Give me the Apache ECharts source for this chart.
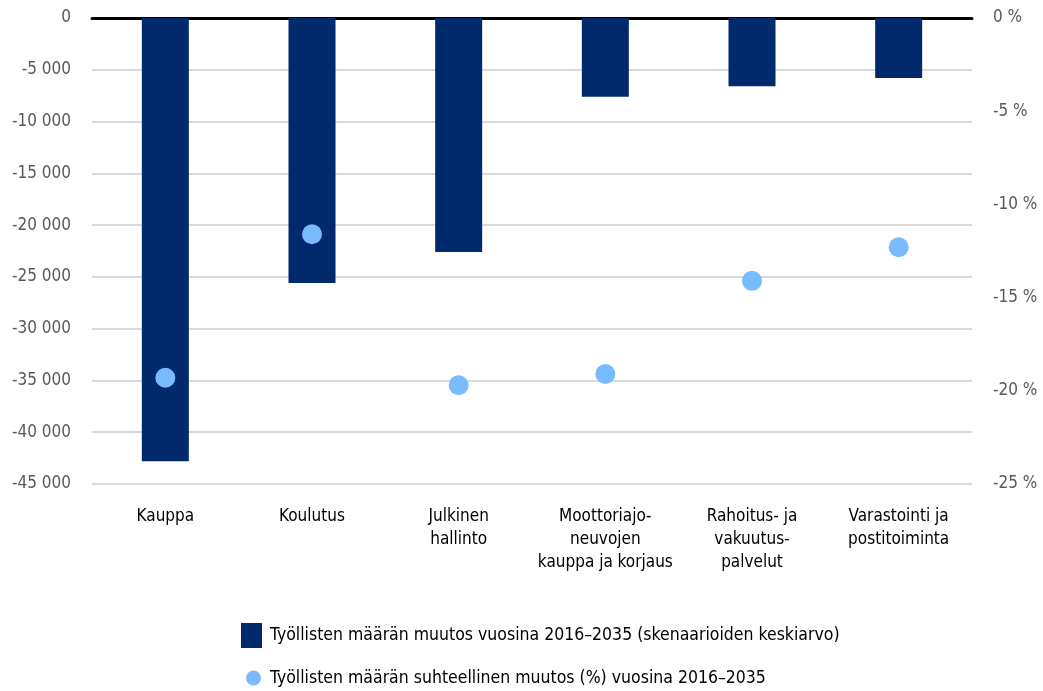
<!DOCTYPE html>
<html><head><meta charset="utf-8">
<script src="https://cdn.jsdelivr.net/npm/echarts@6/dist/echarts.min.js"></script>
<style>html,body{margin:0;padding:0;background:#fff}#c{width:1043px;height:691px}</style>
</head><body><div id="c"></div>
<script>
const categories = ['Kauppa','Koulutus','Julkinen\nhallinto','Moottoriajo-\nneuvojen\nkauppa ja korjaus','Rahoitus- ja\nvakuutus-\npalvelut','Varastointi ja\npostitoiminta'];
const barValues = [-42800, -25600, -22600, -7600, -6600, -5800];
const pctValues = [-19.3, -11.6, -19.7, -19.1, -14.1, -12.3];
const barName = 'Työllisten määrän muutos vuosina 2016–2035 (skenaarioiden keskiarvo)';
const pctName = 'Työllisten määrän suhteellinen muutos (%) vuosina 2016–2035';
const FONT = '"Liberation Sans Narrow","DejaVu Sans Condensed",sans-serif';
const chart = echarts.init(document.getElementById('c'));
function fmtThousands(v){
  const s = Math.abs(v).toString().replace(/\B(?=(\d{3})+(?!\d))/g,' ');
  return (v<0?'-':'')+s;
}
chart.setOption({
  animation:false,
  textStyle:{fontFamily:FONT},
  grid:{left:92,right:71,top:18,bottom:207},
  legend:[
    {data:[barName],left:236,top:618,itemWidth:21,itemHeight:25,icon:'rect',
     textStyle:{fontFamily:FONT,fontSize:17.5,color:'#000',padding:[0,0,0,3]}},
    {data:[pctName],left:241,top:664,itemWidth:15,itemHeight:15,icon:'circle',
     textStyle:{fontFamily:FONT,fontSize:17.5,color:'#000',padding:[0,0,0,4]}}
  ],
  xAxis:[
    {type:'category',data:categories,position:'bottom',
     axisLine:{show:false},axisTick:{show:false},
     axisLabel:{interval:0,color:'#000',fontFamily:FONT,fontSize:17,lineHeight:23,margin:21}},
    {type:'category',data:categories,position:'top',
     axisLine:{show:true,lineStyle:{color:'#000',width:3}},axisTick:{show:false},axisLabel:{show:false}}
  ],
  yAxis:[
    {type:'value',min:-45000,max:0,interval:5000,
     axisLine:{show:false},axisTick:{show:false},
     splitLine:{lineStyle:{color:'#d9d9d9',width:2}},
     axisLabel:{color:'#595959',fontFamily:FONT,fontSize:17,margin:21,formatter:fmtThousands}},
    {type:'value',min:-25,max:0,interval:5,
     axisLine:{show:false},axisTick:{show:false},splitLine:{show:false},
     axisLabel:{color:'#595959',fontFamily:FONT,fontSize:17,margin:21,formatter:v=>v+' %'}}
  ],
  series:[
    {name:barName,type:'bar',data:barValues,xAxisIndex:0,yAxisIndex:0,barWidth:47,
     itemStyle:{color:'#002a6c'}},
    {name:pctName,type:'scatter',data:pctValues,xAxisIndex:0,yAxisIndex:1,symbolSize:20,
     itemStyle:{color:'#7abaff',opacity:1},z:5}
  ]
});
</script></body></html>
